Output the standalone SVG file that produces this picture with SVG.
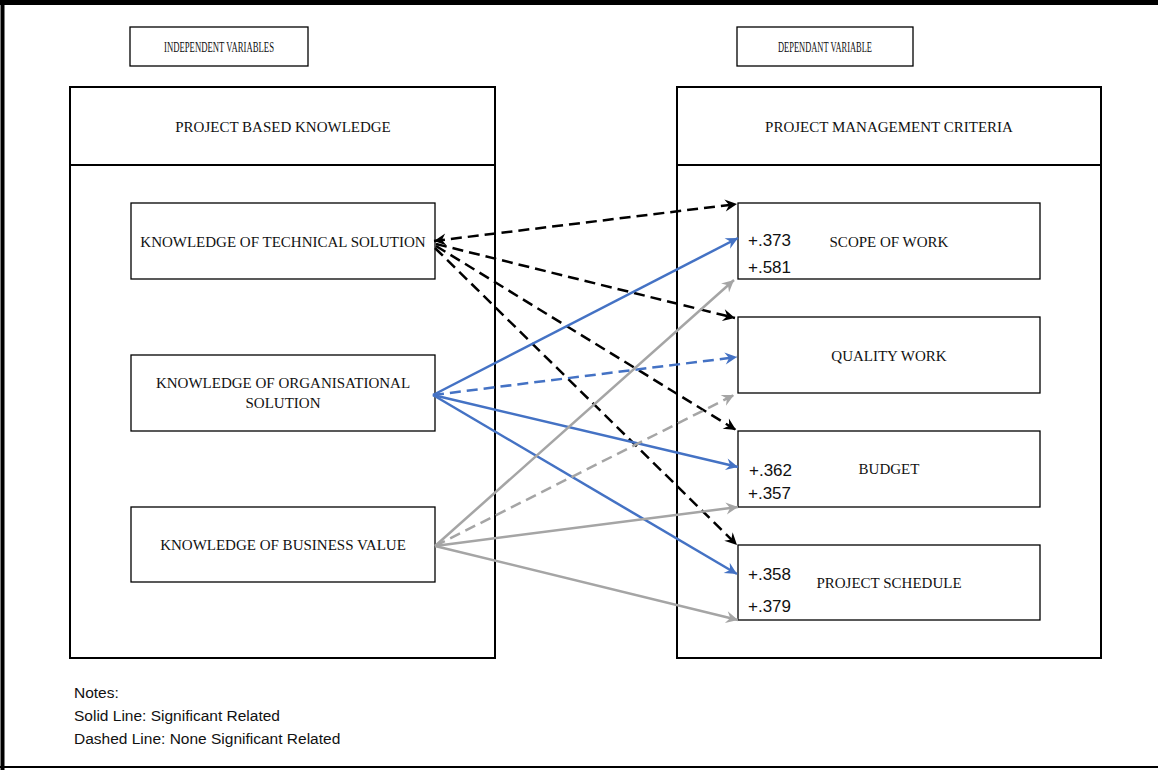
<svg xmlns="http://www.w3.org/2000/svg" width="1158" height="770" viewBox="0 0 1158 770">
<style>
.box{fill:#fff;stroke:#000;stroke-width:1.3}
.outer{fill:none;stroke:#000;stroke-width:2}
.t{font-family:"Liberation Serif","Times New Roman",serif;font-size:15px;fill:#111;text-anchor:middle}
.ts{font-family:"Liberation Serif","Times New Roman",serif;font-size:15px;fill:#111;text-anchor:middle}
.n{font-family:"Liberation Sans",Arial,sans-serif;font-size:17px;fill:#111}
.note{font-family:"Liberation Sans",Arial,sans-serif;font-size:15.5px;fill:#111}
.c{fill:none;stroke-width:2.5}
.k{stroke:#000}
.b{stroke:#4472C4}
.g{stroke:#A5A5A5}
.d{stroke-dasharray:11 6}
</style>
<defs>
<marker id="ak" markerUnits="userSpaceOnUse" markerWidth="14" markerHeight="12" refX="12" refY="6" orient="auto" overflow="visible"><path d="M0,0 L12,6 L0,12 L4,6 z" fill="#000"/></marker>
<marker id="aks" markerUnits="userSpaceOnUse" markerWidth="14" markerHeight="12" refX="0" refY="6" orient="auto" overflow="visible"><path d="M12,0 L0,6 L12,12 L8,6 z" fill="#000"/></marker>
<marker id="ab" markerUnits="userSpaceOnUse" markerWidth="14" markerHeight="12" refX="12" refY="6" orient="auto" overflow="visible"><path d="M0,0 L12,6 L0,12 L4,6 z" fill="#4472C4"/></marker>
<marker id="ag" markerUnits="userSpaceOnUse" markerWidth="14" markerHeight="12" refX="12" refY="6" orient="auto" overflow="visible"><path d="M0,0 L12,6 L0,12 L4,6 z" fill="#A5A5A5"/></marker>
</defs>
<rect x="0" y="0" width="1158" height="770" fill="#fff"/>
<g id="frame">
<line x1="0" y1="2.5" x2="1158" y2="2.5" stroke="#000" stroke-width="5"/>
<line x1="2.5" y1="0" x2="2.5" y2="770" stroke="#000" stroke-width="4"/>
<line x1="0" y1="767" x2="1158" y2="767" stroke="#000" stroke-width="2"/>
</g>
<g id="independent-label">
<rect class="box" x="130" y="27" width="178" height="39"/>
<text class="ts" x="219" y="52" textLength="110" lengthAdjust="spacingAndGlyphs">INDEPENDENT VARIABLES</text>
</g>
<g id="dependent-label">
<rect class="box" x="737" y="27" width="176" height="39"/>
<text class="ts" x="825" y="52" textLength="94" lengthAdjust="spacingAndGlyphs">DEPENDANT VARIABLE</text>
</g>
<g id="project-based-knowledge">
<rect class="outer" x="70" y="87" width="425" height="571"/>
<line x1="70" y1="165" x2="495" y2="165" stroke="#000" stroke-width="2"/>
<text class="t" x="283" y="132">PROJECT BASED KNOWLEDGE</text>
</g>
<g id="project-management-criteria">
<rect class="outer" x="677" y="87" width="424" height="571"/>
<line x1="677" y1="165" x2="1101" y2="165" stroke="#000" stroke-width="2"/>
<text class="t" x="889" y="132">PROJECT MANAGEMENT CRITERIA</text>
</g>
<g id="technical">
<rect class="box" x="131" y="203" width="304" height="76"/>
<text class="t" x="283" y="247">KNOWLEDGE OF TECHNICAL SOLUTION</text>
</g>
<g id="organisational">
<rect class="box" x="131" y="355" width="304" height="76"/>
<text class="t" x="283" y="388">KNOWLEDGE OF ORGANISATIONAL</text>
<text class="t" x="283" y="408">SOLUTION</text>
</g>
<g id="business">
<rect class="box" x="131" y="507" width="304" height="75"/>
<text class="t" x="283" y="550">KNOWLEDGE OF BUSINESS VALUE</text>
</g>
<g id="scope">
<rect class="box" x="738" y="203" width="302" height="76"/>
<text class="t" x="889" y="247">SCOPE OF WORK</text>
<text class="n" x="748" y="246">+.373</text>
<text class="n" x="748" y="273">+.581</text>
</g>
<g id="quality">
<rect class="box" x="738" y="317" width="302" height="76"/>
<text class="t" x="889" y="361">QUALITY WORK</text>
</g>
<g id="budget">
<rect class="box" x="738" y="431" width="302" height="76"/>
<text class="t" x="889" y="474">BUDGET</text>
<text class="n" x="749" y="476">+.362</text>
<text class="n" x="748" y="499">+.357</text>
</g>
<g id="schedule">
<rect class="box" x="738" y="545" width="302" height="75"/>
<text class="t" x="889" y="588">PROJECT SCHEDULE</text>
<text class="n" x="748" y="580">+.358</text>
<text class="n" x="748" y="612">+.379</text>
</g>
<g id="connectors">
<line class="c k d" x1="434" y1="241" x2="737" y2="204" marker-start="url(#aks)" marker-end="url(#ak)"/>
<line class="c k d" x1="436" y1="244" x2="735" y2="318" marker-end="url(#ak)"/>
<line class="c k d" x1="436" y1="246" x2="736" y2="430" marker-end="url(#ak)"/>
<line class="c k d" x1="435" y1="248" x2="737" y2="545" marker-end="url(#ak)"/>
<line class="c b" x1="433" y1="395" x2="738" y2="238" marker-end="url(#ab)"/>
<line class="c b d" x1="433" y1="395" x2="737" y2="357" marker-end="url(#ab)"/>
<line class="c b" x1="433" y1="395" x2="738" y2="467" marker-end="url(#ab)"/>
<line class="c b" x1="433" y1="395" x2="737" y2="574" marker-end="url(#ab)"/>
<line class="c g" x1="435" y1="546" x2="734" y2="280" marker-end="url(#ag)"/>
<line class="c g d" x1="435" y1="546" x2="734" y2="395" marker-end="url(#ag)"/>
<line class="c g" x1="435" y1="546" x2="738" y2="507" marker-end="url(#ag)"/>
<line class="c g" x1="435" y1="546" x2="738" y2="620" marker-end="url(#ag)"/>
</g>
<g id="notes">
<text class="note" x="74" y="698">Notes:</text>
<text class="note" x="74" y="721">Solid Line: Significant Related</text>
<text class="note" x="74" y="744">Dashed Line: None Significant Related</text>
</g>
</svg>
